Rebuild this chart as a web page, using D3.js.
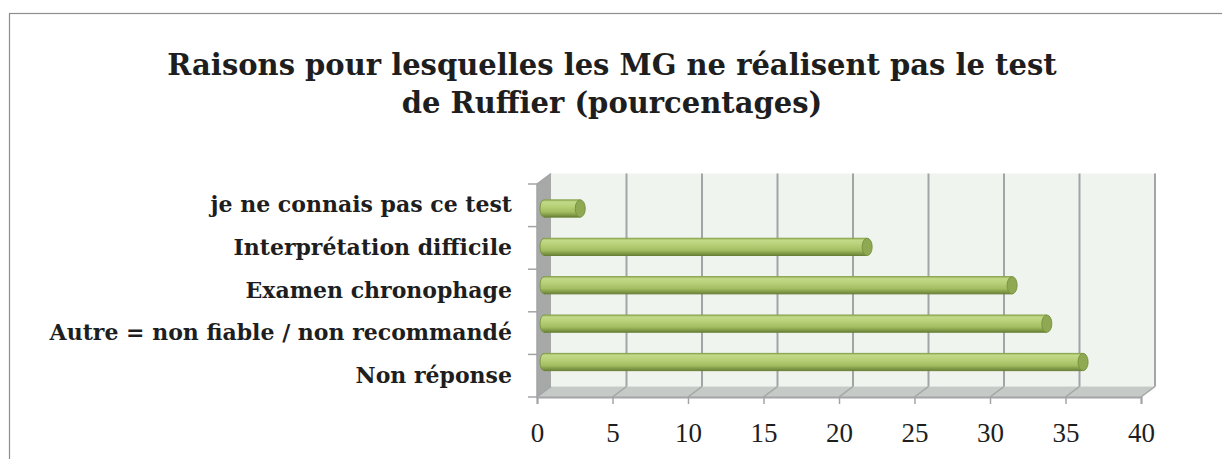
<!DOCTYPE html>
<html>
<head>
<meta charset="utf-8">
<script src="https://cdn.jsdelivr.net/npm/d3@7"></script>
<style>
  body { margin: 0; background: #fff; }
  svg { display: block; }
</style>
</head>
<body>
<script>
// data
var categories = ["je ne connais pas ce test", "Interprétation difficile", "Examen chronophage",
  "Autre = non fiable / non recommandé", "Non réponse"];
var values = [2.4, 21.4, 31.0, 33.3, 35.7];
var xTicks = [0, 5, 10, 15, 20, 25, 30, 35, 40];
var titleLines = ["Raisons pour lesquelles les MG ne réalisent pas le test", "de Ruffier (pourcentages)"];

var W = 1222, H = 459;
var dx = 14, dy = -10.5; // 3d depth
var font = "'Liberation Serif', 'DejaVu Serif', serif";
var boldFont = "'DejaVu Serif', 'Liberation Serif', serif";

var svg = d3.select("body").append("svg").attr("width", W).attr("height", H);

// outer border (cut by the window on right / bottom)
svg.append("rect").attr("x", 9.5).attr("y", 13.5).attr("width", 1400).attr("height", 600)
  .attr("fill", "#fff").attr("stroke", "#8e8e8e").attr("stroke-width", 1.2);

// title
svg.selectAll("text.title").data(titleLines).enter().append("text")
  .attr("class", "title")
  .attr("x", 612).attr("y", function (d, i) { return 75 + i * 38; })
  .attr("text-anchor", "middle")
  .attr("font-family", boldFont).attr("font-weight", "bold").attr("font-size", "29px")
  .attr("fill", "#1e1e1e")
  .text(function (d) { return d; });

var x = d3.scaleLinear().domain([0, 40]).range([537, 1141]);
var y = d3.scaleBand().domain(categories).range([184, 397]).padding(0.55);
var yb = d3.scaleBand().domain(categories).range([184, 397]);

var x0 = x(0), x1 = x(40), yTop = 184, yBot = 397;

// back wall
svg.append("polygon")
  .attr("points", [[x0 + dx, yTop + dy], [x1 + dx, yTop + dy], [x1 + dx, yBot + dy], [x0 + dx, yBot + dy]].join(" "))
  .attr("fill", "#eff4ef");
// side wall
svg.append("polygon")
  .attr("points", [[x0, yTop], [x0 + dx, yTop + dy], [x0 + dx, yBot + dy], [x0, yBot]].join(" "))
  .attr("fill", "#a7a9a8");
// floor
svg.append("polygon")
  .attr("points", [[x0, yBot], [x0 + dx, yBot + dy], [x1 + dx, yBot + dy], [x1, yBot]].join(" "))
  .attr("fill", "#c6cac6");

// gridlines
var grid = svg.append("g").attr("stroke", "#a2a4a6").attr("stroke-width", 2).attr("fill", "none");
grid.selectAll("line.v").data(xTicks.slice(1)).enter().append("line")
  .attr("x1", function (d) { return x(d) + dx; }).attr("x2", function (d) { return x(d) + dx; })
  .attr("y1", yTop + dy).attr("y2", yBot + dy);
grid.selectAll("line.f").data(xTicks).enter().append("line")
  .attr("stroke-width", 1.5)
  .attr("x1", function (d) { return x(d); }).attr("x2", function (d) { return x(d) + dx; })
  .attr("y1", yBot).attr("y2", yBot + dy);
// side wall edges
grid.append("polyline")
  .attr("stroke-width", 1.5)
  .attr("points", [[x0, yBot], [x0, yTop], [x0 + dx, yTop + dy]].join(" "));

// gradient for cylinders
var defs = svg.append("defs");
var grad = defs.append("linearGradient").attr("id", "cyl")
  .attr("x1", 0).attr("y1", 0).attr("x2", 0).attr("y2", 1);
[[0, "#98b25c"], [0.12, "#c2da88"], [0.4, "#b6cf76"], [0.7, "#a3bd63"], [0.85, "#86a04a"], [1, "#6a8238"]]
  .forEach(function (s) { grad.append("stop").attr("offset", s[0]).attr("stop-color", s[1]); });

// bars
var bars = svg.selectAll("g.bar").data(values).enter().append("g").attr("class", "bar");
var bx = function () { return x(0) + dx / 2; };
var by = function (d, i) { return y(categories[i]) + dy / 2; };
var bh = y.bandwidth();
bars.append("ellipse")
  .attr("cx", bx).attr("cy", function (d, i) { return by(d, i) + bh / 2; })
  .attr("rx", 4).attr("ry", bh / 2)
  .attr("fill", "url(#cyl)").attr("stroke", "#7d9843").attr("stroke-width", 1);
bars.append("rect")
  .attr("x", bx).attr("y", by)
  .attr("width", function (d) { return x(d) - x(0); }).attr("height", bh)
  .attr("fill", "url(#cyl)");
bars.append("line")
  .attr("x1", bx).attr("x2", function (d) { return x(d) + dx / 2; })
  .attr("y1", by).attr("y2", by)
  .attr("stroke", "#8aa44e").attr("stroke-width", 1);
bars.append("line")
  .attr("x1", bx).attr("x2", function (d) { return x(d) + dx / 2; })
  .attr("y1", function (d, i) { return by(d, i) + bh; }).attr("y2", function (d, i) { return by(d, i) + bh; })
  .attr("stroke", "#6a8238").attr("stroke-width", 1);
bars.append("ellipse")
  .attr("cx", function (d) { return x(d) + dx / 2; })
  .attr("cy", function (d, i) { return by(d, i) + bh / 2; })
  .attr("rx", 5).attr("ry", bh / 2)
  .attr("fill", "#8ea951").attr("stroke", "#7a9342").attr("stroke-width", 1);

// x axis
var xAxis = svg.append("g").attr("transform", "translate(0," + yBot + ")")
  .call(d3.axisBottom(x).tickValues(xTicks).tickSize(7).tickPadding(19));
xAxis.select(".domain").attr("stroke", "#a2a4a6").attr("stroke-width", 2);
xAxis.selectAll(".tick line").attr("stroke", "#a2a4a6").attr("stroke-width", 1.5);
xAxis.selectAll(".tick text").attr("font-family", font).attr("font-size", "27px").attr("fill", "#1e1e1e");

// y axis
var yAxis = svg.append("g").attr("transform", "translate(" + x0 + ",0)")
  .call(d3.axisLeft(yb).tickSize(0).tickPadding(25));
yAxis.select(".domain").remove();
yAxis.selectAll(".tick text").attr("font-family", boldFont).attr("font-weight", "bold")
  .attr("font-size", "22px").attr("fill", "#1e1e1e");
svg.append("g").selectAll("line").data(d3.range(6)).enter().append("line")
  .attr("x1", x0 - 9).attr("x2", x0)
  .attr("y1", function (d) { return yTop + d * yb.step(); }).attr("y2", function (d) { return yTop + d * yb.step(); })
  .attr("stroke", "#a2a4a6").attr("stroke-width", 1.5);
</script>
</body>
</html>
